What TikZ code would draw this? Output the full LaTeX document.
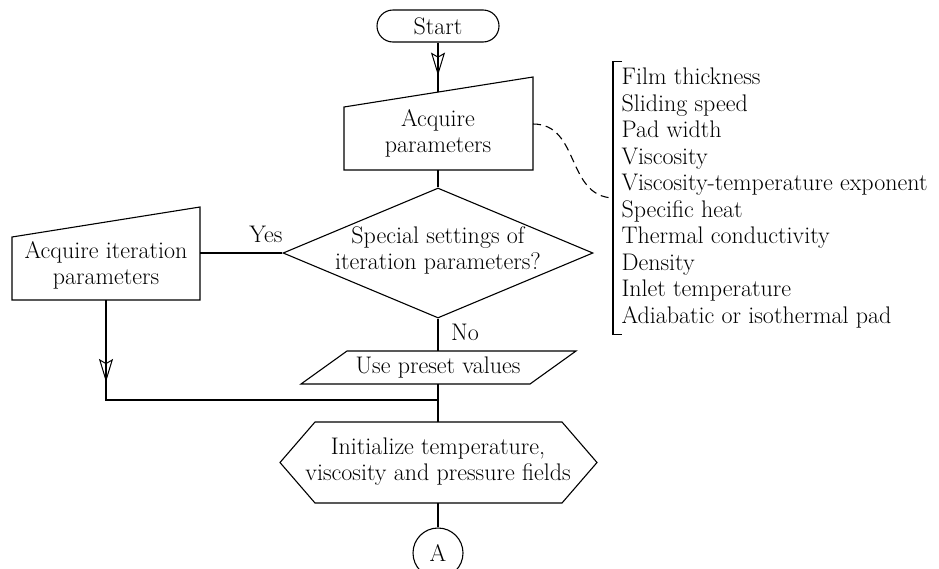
\documentclass[tikz,border=0pt]{standalone}
\usepackage{fontspec}
\usetikzlibrary{shapes.misc,shapes.geometric,arrows.meta,decorations.markings,calc}
\begin{document}
\begin{tikzpicture}[x=1pt,y=-1pt, line width=1.1pt,
  every node/.style={font=\fontsize{24}{26}\selectfont, inner sep=0pt},
  txt/.style={align=center},
  midarrow/.style={postaction={decorate}, decoration={markings,
     mark=at position #1 with {\arrow[line width=1pt]{Stealth[open,length=23pt,width=14pt,inset=4pt]}}}},
  dashcurve/.style={dash pattern=on 8pt off 5pt}]
\useasboundingbox (0,0) rectangle (939,568);

% Start
\node[draw, rounded rectangle, minimum width=122pt, minimum height=32pt] (start) at (438,26) {Start};

% Acquire parameters (manual input)
\draw (344,170) -- (533,170) -- (533,77) -- (344,107) -- cycle;
\node[txt] (acq) at (438,133) {Acquire\\parameters};
\coordinate (acqT) at (438,92);
\coordinate (acqB) at (438,170);
\coordinate (acqR) at (533,124);

\draw[midarrow=33pt] (start) -- (acqT);

% Decision
\node[draw, diamond, minimum width=310pt, minimum height=130pt] (dec) at (438,253) {};
\node[txt] (dectext) at (438,250.5) {Special settings of\\iteration parameters?};
\draw (acqB) -- (dec.north);

% Acquire iteration parameters
\draw (12,300) -- (200,300) -- (200,207) -- (12,237) -- cycle;
\node[txt] (ait) at (106,265.6) {Acquire iteration\\parameters};
\coordinate (aitR) at (200,253);
\coordinate (aitB) at (106,300);
\draw (dec.west) -- (aitR);
\node (yes) at (266,234.8) {Yes};

% left return path
\coordinate (corner) at (106,400);
\coordinate (join) at (438,400);
\draw[midarrow=82pt] (aitB) -- (corner) -- (join);

% Use preset values
\draw (347,351) -- (576,351) -- (530,384) -- (301,384) -- cycle;
\node[txt] (use) at (438,367.2) {Use preset values};
\coordinate (useT) at (438,351);
\coordinate (useB) at (438,384);
\draw (dec.south) -- (useT);
\node (no) at (465,332.8) {No};

% Initialize
\draw (315,422) -- (562,422) -- (597,462.5) -- (562,503) -- (315,503) -- (280,462.5) -- cycle;
\node[txt] (ini) at (438,462) {Initialize temperature,\\viscosity and pressure fields};
\coordinate (iniT) at (438,422);
\coordinate (iniB) at (438,503);
\draw (useB) -- (iniT);

% Connector A
\node[draw, circle, minimum size=50pt] (A) at (438,553) {A};
\draw (iniB) -- (A);

% Parameter list
\node[align=left, anchor=west, minimum height=272pt, inner xsep=8pt,
      font=\fontsize{24}{26.5}\selectfont] (list) at (613,198)
  {Film thickness\\Sliding speed\\Pad width\\Viscosity\\Viscosity-temperature exponent\\Specific heat\\Thermal conductivity\\Density\\Inlet temperature\\Adiabatic or isothermal pad};
\draw ([xshift=9pt]list.north west) -- (list.north west) -- (list.south west) -- ([xshift=9pt]list.south west);
\draw[dashcurve] (acqR) .. controls (580,124) and (566,196) .. (list.west);
\end{tikzpicture}
\end{document}
